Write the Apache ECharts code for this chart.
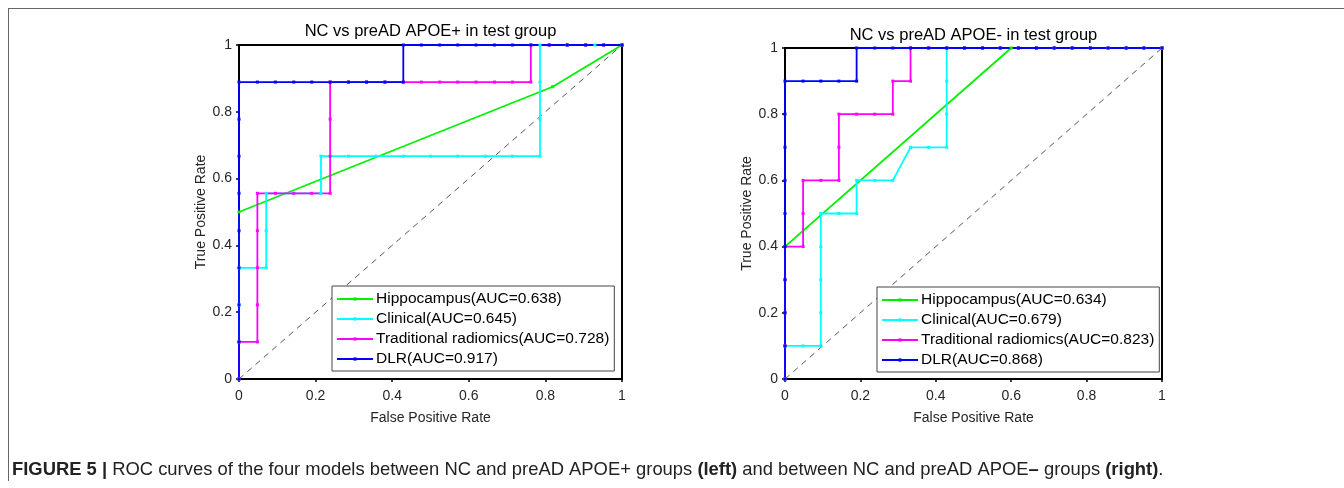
<!DOCTYPE html>
<html>
<head>
<meta charset="UTF-8">
<title>ROC curves</title>
<script src="https://cdn.jsdelivr.net/npm/echarts@6/dist/echarts.min.js"></script>
<style>html,body{margin:0;padding:0;background:#fff;}</style>
</head>
<body>
<div id="chart" style="width:1344px;height:488px;"></div>
<script>
// axis ticks
var axisTicks = [0, 0.2, 0.4, 0.6, 0.8, 1];

// left panel: NC vs preAD APOE+
var leftTitle = 'NC vs preAD APOE+ in test group';
var leftNames = ['Hippocampus(AUC=0.638)', 'Clinical(AUC=0.645)', 'Traditional radiomics(AUC=0.728)', 'DLR(AUC=0.917)'];
var leftHippo = [[0,0],[0,0.5],[0.819,0.875],[1,1]];
var leftClinical = [[0,0],[0,0.111],[0,0.222],[0,0.333],[0.071,0.333],[0.071,0.444],[0.071,0.556],
  [0.143,0.556],[0.214,0.556],[0.214,0.667],[0.286,0.667],[0.357,0.667],[0.429,0.667],[0.5,0.667],
  [0.571,0.667],[0.643,0.667],[0.714,0.667],[0.786,0.667],[0.786,0.778],[0.786,0.889],[0.786,1],
  [0.857,1],[0.929,1],[1,1]];
var leftRadiomics = [[0,0],[0,0.111],[0.048,0.111],[0.048,0.222],[0.048,0.333],[0.048,0.444],[0.048,0.556],
  [0.095,0.556],[0.143,0.556],[0.190,0.556],[0.238,0.556],[0.238,0.667],[0.238,0.778],[0.238,0.889],
  [0.286,0.889],[0.333,0.889],[0.381,0.889],[0.429,0.889],[0.476,0.889],[0.524,0.889],[0.571,0.889],
  [0.619,0.889],[0.667,0.889],[0.714,0.889],[0.762,0.889],[0.762,1],[0.810,1],[0.857,1],[0.905,1],
  [0.952,1],[1,1]];
var leftDLR = [[0,0],[0,0.111],[0,0.222],[0,0.333],[0,0.444],[0,0.556],[0,0.667],[0,0.778],[0,0.889],
  [0.048,0.889],[0.095,0.889],[0.143,0.889],[0.190,0.889],[0.238,0.889],[0.286,0.889],[0.333,0.889],
  [0.381,0.889],[0.429,0.889],[0.429,1],[0.476,1],[0.524,1],[0.571,1],[0.619,1],[0.667,1],[0.714,1],
  [0.762,1],[0.810,1],[0.857,1],[0.905,1],[0.952,1],[1,1]];

// right panel: NC vs preAD APOE-
var rightTitle = 'NC vs preAD APOE- in test group';
var rightNames = ['Hippocampus(AUC=0.634)', 'Clinical(AUC=0.679)', 'Traditional radiomics(AUC=0.823)', 'DLR(AUC=0.868)'];
var rightHippo = [[0,0],[0,0.4],[0.6,1],[1,1]];
var rightClinical = [[0,0],[0,0.1],[0.048,0.1],[0.095,0.1],[0.095,0.2],[0.095,0.3],[0.095,0.4],[0.095,0.5],
  [0.143,0.5],[0.190,0.5],[0.190,0.6],[0.238,0.6],[0.286,0.6],[0.333,0.7],[0.381,0.7],[0.429,0.7],
  [0.429,0.8],[0.429,0.9],[0.429,1],[0.476,1],[0.524,1],[0.571,1],[0.619,1],[0.667,1],[0.714,1],
  [0.762,1],[0.810,1],[0.857,1],[0.905,1],[0.952,1],[1,1]];
var rightRadiomics = [[0,0],[0,0.1],[0,0.2],[0,0.3],[0,0.4],[0.048,0.4],[0.048,0.5],[0.048,0.6],
  [0.095,0.6],[0.143,0.6],[0.143,0.7],[0.143,0.8],[0.190,0.8],[0.238,0.8],[0.286,0.8],[0.286,0.9],
  [0.333,0.9],[0.333,1],[0.381,1],[0.429,1],[0.476,1],[0.524,1],[0.571,1],[0.619,1],[0.667,1],
  [0.714,1],[0.762,1],[0.810,1],[0.857,1],[0.905,1],[0.952,1],[1,1]];
var rightDLR = [[0,0],[0,0.1],[0,0.2],[0,0.3],[0,0.4],[0,0.5],[0,0.6],[0,0.7],[0,0.8],[0,0.9],
  [0.048,0.9],[0.095,0.9],[0.143,0.9],[0.190,0.9],[0.190,1],[0.238,1],[0.286,1],[0.333,1],[0.381,1],
  [0.429,1],[0.476,1],[0.524,1],[0.571,1],[0.619,1],[0.667,1],[0.714,1],[0.762,1],[0.810,1],
  [0.857,1],[0.905,1],[0.952,1],[1,1]];

var chanceLine = [[0,0],[1,1]];
var colors = ['#00f000', '#00ffff', '#ff00ff', '#0000ff'];

var FONT = 'Liberation Sans, Arial, sans-serif';

function curve(name, data, color, idx) {
  return {
    name: name, type: 'line', xAxisIndex: idx, yAxisIndex: idx, data: data,
    symbol: 'rect', symbolSize: 3, showSymbol: true,
    lineStyle: {color: color, width: 1.8}, itemStyle: {color: color},
    emphasis: {disabled: true}, animation: false
  };
}
function diag(idx) {
  return {
    type: 'line', xAxisIndex: idx, yAxisIndex: idx, data: chanceLine, symbol: 'none',
    lineStyle: {color: '#555', width: 1, type: [6, 5]}, silent: true, animation: false
  };
}
function xAx(idx) {
  return {
    gridIndex: idx, type: 'value', min: 0, max: 1, interval: 0.2,
    name: 'False Positive Rate', nameLocation: 'middle', nameGap: 32,
    nameTextStyle: {color: '#262626', fontSize: 14, fontFamily: FONT},
    axisLine: {onZero: false, lineStyle: {color: '#000', width: 2}},
    axisTick: {length: 3, lineStyle: {color: '#000', width: 1.5}},
    axisLabel: {color: '#262626', fontSize: 14, fontFamily: FONT, margin: 10},
    splitLine: {show: false}
  };
}
function yAx(idx) {
  return {
    gridIndex: idx, type: 'value', min: 0, max: 1, interval: 0.2,
    name: 'True Positive Rate', nameLocation: 'middle', nameGap: 31,
    nameTextStyle: {color: '#262626', fontSize: 14, fontFamily: FONT},
    axisLine: {onZero: false, lineStyle: {color: '#000', width: 2}},
    axisTick: {length: 3, lineStyle: {color: '#000', width: 1.5}},
    axisLabel: {color: '#262626', fontSize: 14, fontFamily: FONT, margin: 7},
    splitLine: {show: false}
  };
}
function legend(names, left, top) {
  return {
    data: names, orient: 'vertical', left: left, top: top, selectedMode: false,
    itemWidth: 36, itemHeight: 4, itemGap: 4, padding: [5, 5, 4, 4],
    borderColor: '#444', borderWidth: 1, backgroundColor: '#fff',
    textStyle: {color: '#000', fontSize: 15.5, fontFamily: FONT, padding: [0, 0, 0, -2]}
  };
}

var chart = echarts.init(document.getElementById('chart'), null, {renderer: 'canvas'});

var series = [diag(0), diag(1)];
var leftData = [leftHippo, leftClinical, leftRadiomics, leftDLR];
var rightData = [rightHippo, rightClinical, rightRadiomics, rightDLR];
for (var i = 0; i < 4; i++) {
  series.push(curve(leftNames[i], leftData[i], colors[i], 0));
  series.push(curve(rightNames[i], rightData[i], colors[i], 1));
}

chart.setOption({
  backgroundColor: '#fff',
  animation: false,
  grid: [
    {left: 239, top: 45, width: 383, height: 334, show: true, borderColor: '#000', borderWidth: 2, backgroundColor: 'transparent'},
    {left: 785, top: 48, width: 377, height: 331, show: true, borderColor: '#000', borderWidth: 2, backgroundColor: 'transparent'}
  ],
  xAxis: [xAx(0), xAx(1)],
  yAxis: [yAx(0), yAx(1)],
  legend: [legend(leftNames, 332, 286), legend(rightNames, 877, 287)],
  series: series,
  graphic: [
    {type: 'line', shape: {x1: 8, y1: 8.5, x2: 1344, y2: 8.5}, style: {stroke: '#666', lineWidth: 1}, silent: true},
    {type: 'line', shape: {x1: 8.5, y1: 8, x2: 8.5, y2: 481}, style: {stroke: '#666', lineWidth: 1}, silent: true},
    {type: 'text', x: 430.5, y: 31, style: {text: leftTitle, fill: '#000', font: '16.5px ' + FONT, textAlign: 'center', textVerticalAlign: 'middle'}},
    {type: 'text', x: 973.5, y: 35, style: {text: rightTitle, fill: '#000', font: '16.5px ' + FONT, textAlign: 'center', textVerticalAlign: 'middle'}},
    {type: 'text', x: 12, y: 470, style: {
      text: '{b|FIGURE 5 |} ROC curves of the four models between NC and preAD APOE+ groups {b|(left)} and between NC and preAD APOE{b|–} groups {b|(right)}.',
      fill: '#222', font: '18.4px ' + FONT, textVerticalAlign: 'middle',
      rich: {b: {fontWeight: 'bold', fontSize: 18.4, fontFamily: FONT, fill: '#222'}}
    }}
  ]
});
</script>
</body>
</html>
